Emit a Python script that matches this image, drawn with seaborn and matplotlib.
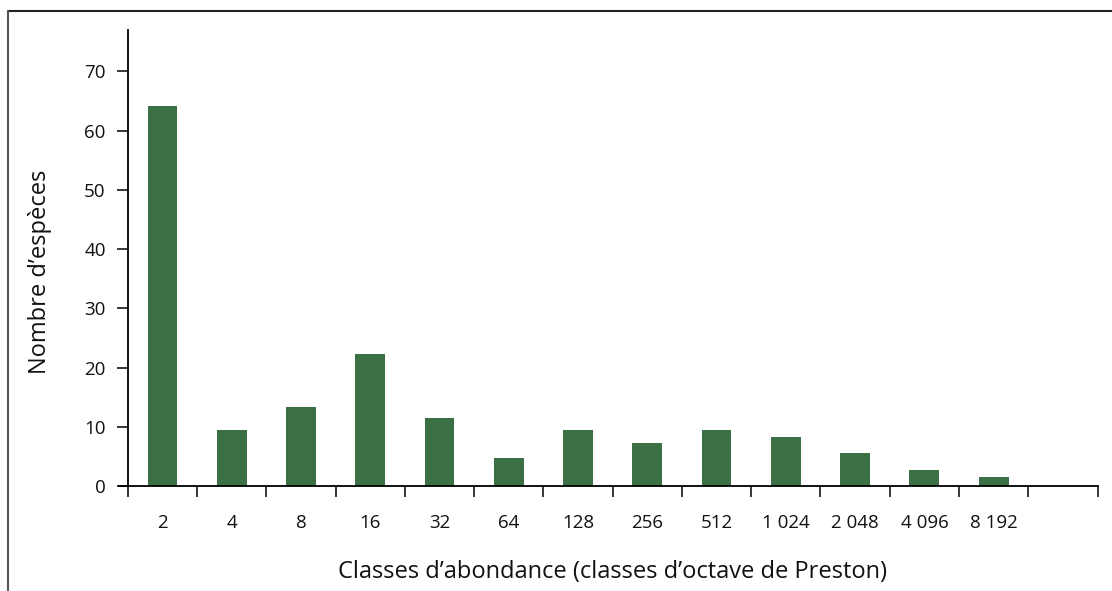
import numpy as np
import pandas as pd
import matplotlib
matplotlib.use("Agg")
import matplotlib.pyplot as plt
from matplotlib.lines import Line2D
import seaborn as sns

classes = ["2", "4", "8", "16", "32", "64", "128", "256", "512",
           "1 024", "2 048", "4 096", "8 192"]
especes = [64.2, 9.5, 13.3, 22.3, 11.5, 4.7, 9.5, 7.3, 9.5, 8.3, 5.5, 2.7, 1.5]
yticks = [0, 10, 20, 30, 40, 50, 60, 70]

df = pd.DataFrame({"classe": classes, "n": especes})

sns.set_theme(style="white")
plt.rcParams["font.family"] = ["Open Sans", "DejaVu Sans"]

fig = plt.figure(figsize=(11.12, 5.91), dpi=100)
ax = fig.add_axes([0.115, 0.1777, 0.872, 0.7715])

sns.barplot(data=df, x="classe", y="n", order=classes, color="#3a7044",
            saturation=1, width=0.43, linewidth=0, ax=ax)

ax.set_xlim(-0.5, 13.5)
ax.set_ylim(0, 77)
ax.set_yticks(yticks)
ax.set_xticks(range(len(classes)))
ax.set_xticklabels(classes)
ax.set_xticks(np.arange(-0.5, 14.0, 1.0), minor=True)

for s in ["top", "right"]:
    ax.spines[s].set_visible(False)
for s in ["left", "bottom"]:
    ax.spines[s].set_color("black")
    ax.spines[s].set_linewidth(1.3)
ax.spines["bottom"].set_bounds(-0.63, 13.5)

ax.tick_params(axis="y", which="major", direction="out", length=8, width=1.1,
               color="black", left=True, labelsize=13.5, pad=8, labelcolor="#111111")
ax.tick_params(axis="x", which="major", length=0, labelsize=13.5, pad=20,
               labelcolor="#111111")
ax.tick_params(axis="x", which="minor", direction="out", length=8, width=1.1,
               color="black", bottom=True)

ax.set_xlabel("Classes d\u2019abondance (classes d\u2019octave de Preston)",
              fontsize=17, color="#111111", labelpad=20)
ax.set_ylabel("Nombre d\u2019esp\u00e8ces", fontsize=17, color="#111111")
ax.yaxis.set_label_coords(-0.078, 0.47)

# cadre partiel (haut et gauche)
fig.add_artist(Line2D([0.0072, 1.0], [0.982, 0.982], transform=fig.transFigure,
                      color="#222222", lw=1.5))
fig.add_artist(Line2D([0.0072, 0.0072], [0.0, 0.982], transform=fig.transFigure,
                      color="#555555", lw=1.5))

fig.savefig("out.png", dpi=100)
